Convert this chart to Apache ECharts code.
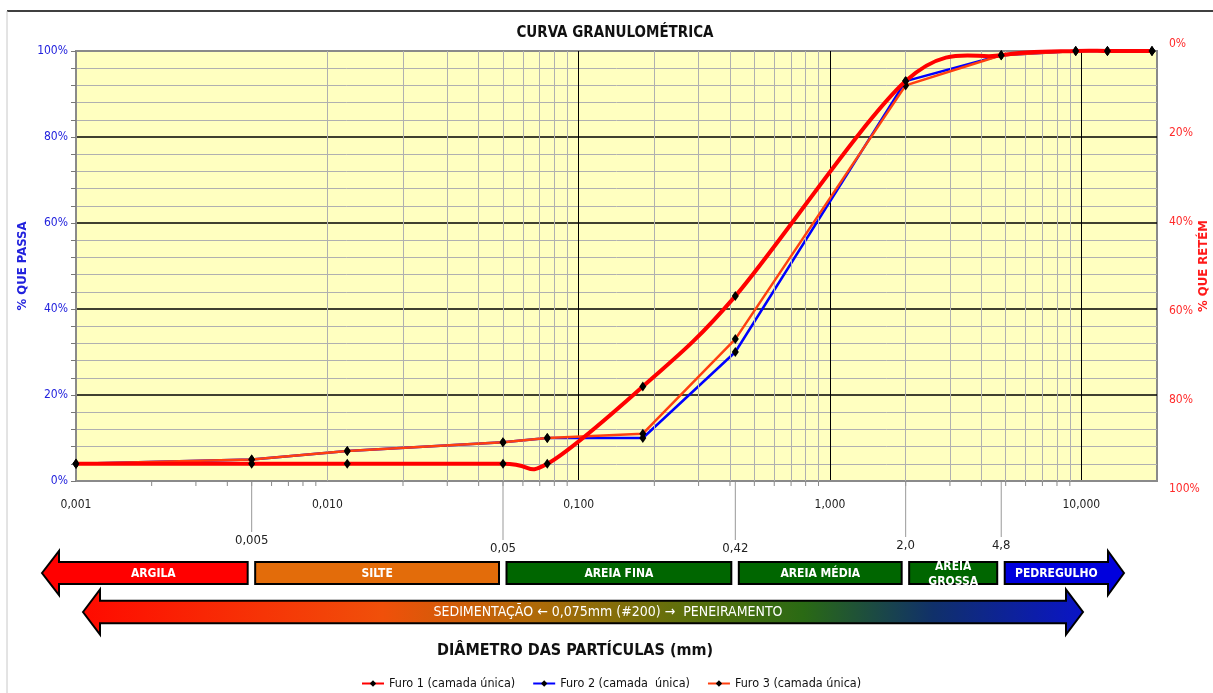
<!DOCTYPE html>
<html>
<head>
<meta charset="utf-8">
<script src="https://cdn.jsdelivr.net/npm/echarts@6/dist/echarts.min.js"></script>
<style>
html, body { margin: 0; padding: 0; background: #fff; }
#main { width: 1213px; height: 693px; }
</style>
</head>
<body>
<div id="main"></div>
<script>
// diâmetros das peneiras (mm) e % que passa de cada furo
const diametros = [0.001, 0.005, 0.012, 0.05, 0.075, 0.18, 0.42, 2.0, 4.8, 9.5, 12.7, 19.1]
const furo1 = [4, 4, 4, 4, 4, 22, 43, 93, 99, 100, 100, 100]
const furo2 = [4, 5, 7, 9, 10, 10, 30, 93, 99, 100, 100, 100]
const furo3 = [4, 5, 7, 9, 10, 11, 33, 92, 99, 100, 100, 100]
const nomes = ['Furo 1 (camada única)', 'Furo 2 (camada  única)', 'Furo 3 (camada única)']

// limites das frações (escala ABNT)
const limites = [0.005, 0.05, 0.42, 2.0, 4.8]
const limitesTxt = ['0,005', '0,05', '0,42', '2,0', '4,8']
const classes = ['ARGILA', 'SILTE', 'AREIA FINA', 'AREIA MÉDIA', 'AREIA\nGROSSA', 'PEDREGULHO']

const xMin = 0.001, xMax = 20
const FONT = '"Liberation Sans Narrow", "DejaVu Sans Condensed", sans-serif'
const CINZA = '#b0b0b0'

const chart = echarts.init(document.getElementById('main'))

// linhas secundárias do papel log (2..9 de cada década)
const menores = []
for (let e = -3; e <= 1; e++) {
    for (let k = 2; k <= 9; k++) {
        const v = k * Math.pow(10, e)
        if (v < xMax) menores.push(+v.toPrecision(3))
    }
}

const pares = arr => diametros.map((d, i) => [d, arr[i]])

// curva suavizada tipo Excel (catmull-rom) do furo 1, em pixels do eixo
function curvaSuave(params, api) {
    if (params.dataIndex !== 0) return null
    const pts = diametros.map((d, i) => api.coord([d, furo1[i]]))
    const t = 0.16
    const segs = []
    for (let i = 0; i < pts.length - 1; i++) {
        const p0 = pts[Math.max(i - 1, 0)], p1 = pts[i], p2 = pts[i + 1], p3 = pts[Math.min(i + 2, pts.length - 1)]
        segs.push({
            type: 'bezierCurve',
            shape: {
                x1: p1[0], y1: p1[1], x2: p2[0], y2: p2[1],
                cpx1: p1[0] + (p2[0] - p0[0]) * t, cpy1: p1[1] + (p2[1] - p0[1]) * t,
                cpx2: p2[0] - (p3[0] - p1[0]) * t, cpy2: p2[1] - (p3[1] - p1[1]) * t
            },
            style: { fill: null, stroke: '#ff0000', lineWidth: 4, lineCap: 'round' }
        })
    }
    return { type: 'group', children: segs }
}

// rótulos da direita ficam um pouco mais espaçados no original
const richDir = {}
for (let v = 0; v <= 100; v += 20) {
    const s = Math.round(-7 + 0.15 * v)
    richDir['p' + v] = { color: '#ff2a2a', fontSize: 12, padding: s < 0 ? [0, 0, -2 * s, 0] : [2 * s, 0, 0, 0] }
}

const option = {
    animation: false,
    textStyle: { fontFamily: FONT },
    grid: {
        left: 76, right: 56, top: 51, bottom: 212,
        outerBoundsMode: 'none', containLabel: false,
        show: true, backgroundColor: '#ffffc0', borderColor: '#8a8a8a', borderWidth: 2
    },
    legend: {
        data: [{ name: nomes[0], lineStyle: { opacity: 1 } }, nomes[1], nomes[2]],
        left: 356, top: 672,
        itemWidth: 22, itemHeight: 8, itemGap: 17,
        textStyle: { fontSize: 12.5, color: '#111', fontFamily: FONT }
    },
    xAxis: {
        type: 'log', logBase: 10, min: xMin, max: xMax,
        axisLine: { lineStyle: { color: '#8a8a8a', width: 2 } },
        axisTick: { show: false },
        axisLabel: {
            color: '#222', fontSize: 12, margin: 18,
            formatter: v => {
                const e = Math.log10(v)
                return Math.abs(e - Math.round(e)) < 1e-6 ? v.toFixed(3).replace('.', ',') : ''
            }
        },
        splitLine: { show: true, showMinLine: false, showMaxLine: false, lineStyle: { color: '#000', width: 1 } }
    },
    yAxis: [{
        type: 'value', min: 0, max: 100, interval: 20, position: 'left',
        name: '% QUE PASSA', nameLocation: 'middle', nameGap: 47, nameRotate: 90, nameMoveOverlap: false,
        nameTextStyle: { color: '#2222dd', fontWeight: 'bold', fontSize: 13 },
        axisLine: { show: true, lineStyle: { color: '#8a8a8a', width: 2 } },
        axisTick: { show: true, length: 5, lineStyle: { color: '#777' } },
        minorTick: { show: true, splitNumber: 5, length: 5, lineStyle: { color: '#777' } },
        axisLabel: { formatter: '{value}%', color: '#2222dd', fontSize: 12, margin: 8 },
        splitLine: { show: true, showMinLine: false, showMaxLine: false, lineStyle: { color: '#000', width: 1.5 } },
        minorSplitLine: { show: true, lineStyle: { color: CINZA, width: 1 } }
    }, {
        type: 'value', min: 0, max: 100, interval: 20, position: 'right', inverse: true,
        name: '% QUE RETÉM', nameLocation: 'middle', nameGap: 40, nameRotate: 90, nameMoveOverlap: false,
        nameTextStyle: { color: '#ff1a1a', fontWeight: 'bold', fontSize: 13 },
        axisLine: { show: false }, axisTick: { show: false }, splitLine: { show: false },
        axisLabel: { formatter: v => '{p' + v + '|' + v + '%}', rich: richDir, margin: 12 }
    }],
    series: [{
        // linha própria escondida: a curva vem da série 'curva1'
        name: nomes[0], type: 'line', data: pares(furo1), z: 6,
        symbol: 'diamond', symbolSize: [7, 10],
        itemStyle: { color: '#000' }, lineStyle: { color: '#ff0000', width: 4, opacity: 0 }
    }, {
        name: nomes[1], type: 'line', data: pares(furo2), z: 4,
        symbol: 'diamond', symbolSize: [7, 10],
        itemStyle: { color: '#000' }, lineStyle: { color: '#0000ff', width: 2.5 }
    }, {
        name: nomes[2], type: 'line', data: pares(furo3), z: 5,
        symbol: 'diamond', symbolSize: [7, 10],
        itemStyle: { color: '#000' }, lineStyle: { color: '#ff4010', width: 2.5 }
    }, {
        name: 'curva1', type: 'custom', coordinateSystem: 'cartesian2d',
        data: pares(furo1), encode: { x: 0, y: 1 }, z: 5.5, silent: true,
        renderItem: curvaSuave
    }, {
        // só para as linhas verticais secundárias
        name: 'grade', type: 'line', data: [], z: 1, silent: true,
        markLine: {
            silent: true, symbol: 'none', label: { show: false }, animation: false,
            lineStyle: { color: CINZA, width: 1, type: 'solid' },
            data: menores.map(v => ({ xAxis: v, lineStyle: { color: CINZA, width: 1, type: 'solid' } }))
        }
    }]
}
chart.setOption(option)

// ---- desenhos abaixo do gráfico (posições vindas do eixo) ----
const px = v => chart.convertToPixel({ xAxisIndex: 0 }, v)
const yBase = chart.convertToPixel({ yAxisIndex: 0 }, 0)
const g = []

// moldura
g.push({ type: 'line', shape: { x1: 7, y1: 11, x2: 1213, y2: 11 }, style: { stroke: '#000', lineWidth: 1.5 } })
g.push({ type: 'line', shape: { x1: 7, y1: 11, x2: 7, y2: 693 }, style: { stroke: '#c8c8c8', lineWidth: 1 } })

// título
g.push({ type: 'text', x: 615, y: 33, style: { text: 'CURVA GRANULOMÉTRICA', font: 'bold 15px ' + FONT, fill: '#111', align: 'center', verticalAlign: 'middle' } })

// marcas secundárias no eixo x
menores.forEach(v => {
    const x = px(v)
    g.push({ type: 'line', shape: { x1: x, y1: yBase, x2: x, y2: yBase + 5 }, style: { stroke: '#888', lineWidth: 1 } })
})

// linhas de limite e rótulos
const rotY = [541, 549, 549, 546, 546]
limites.forEach((v, i) => {
    const x = px(v)
    g.push({ type: 'line', shape: { x1: x, y1: yBase, x2: x, y2: rotY[i] - 9 }, style: { stroke: '#999', lineWidth: 1 } })
    g.push({ type: 'text', x: x, y: rotY[i], style: { text: limitesTxt[i], font: '13px ' + FONT, fill: '#222', align: 'center', verticalAlign: 'middle' } })
})

function setaEsq(tip, right, cy, hl, hh, bh) {
    return [[tip, cy], [tip + hl, cy - hh], [tip + hl, cy - bh], [right, cy - bh], [right, cy + bh], [tip + hl, cy + bh], [tip + hl, cy + hh]]
}
function setaDir(left, tip, cy, hl, hh, bh) {
    return [[tip, cy], [tip - hl, cy - hh], [tip - hl, cy - bh], [left, cy - bh], [left, cy + bh], [tip - hl, cy + bh], [tip - hl, cy + hh]]
}

// faixa das frações
const cores = ['#ff0000', '#e36c0a', '#006600', '#006600', '#006600', '#0000dd']
const cy1 = 573, bh1 = 11, hh1 = 22
classes.forEach((nome, i) => {
    const a = i === 0 ? 42 : px(limites[i - 1]) + 3.5
    const b = i === classes.length - 1 ? 1124 : px(limites[i]) - 4
    let shape
    if (i === 0) shape = { type: 'polygon', shape: { points: setaEsq(a, b, cy1, 17, hh1, bh1) } }
    else if (i === classes.length - 1) shape = { type: 'polygon', shape: { points: setaDir(a, b, cy1, 16, hh1, bh1) } }
    else shape = { type: 'rect', shape: { x: a, y: cy1 - bh1, width: b - a, height: bh1 * 2 } }
    shape.style = { fill: cores[i], stroke: '#000', lineWidth: 2 }
    g.push(shape)
    let cx = (a + b) / 2
    if (i === 0) cx = (a + 17 + b) / 2
    if (i === classes.length - 1) cx = (a + b - 16) / 2
    g.push({ type: 'text', x: cx, y: cy1 + 1, z: 10, style: { text: nome, font: 'bold 12px ' + FONT, fill: '#fff', align: 'center', verticalAlign: 'middle', lineHeight: 15 } })
})

// seta dupla sedimentação / peneiramento
const cy2 = 612, hh2 = 22.5, bh2 = 11.3
g.push({
    type: 'polygon',
    shape: { points: [
        [83, cy2], [100, cy2 - hh2], [100, cy2 - bh2], [1066, cy2 - bh2], [1066, cy2 - hh2], [1083, cy2],
        [1066, cy2 + hh2], [1066, cy2 + bh2], [100, cy2 + bh2], [100, cy2 + hh2]
    ] },
    style: {
        stroke: '#000', lineWidth: 2,
        fill: new echarts.graphic.LinearGradient(0, 0, 1, 0, [
            { offset: 0, color: '#ff0a00' },
            { offset: 0.3, color: '#f0500a' },
            { offset: 0.45, color: '#b06a08' },
            { offset: 0.6, color: '#5e700c' },
            { offset: 0.72, color: '#2a6a14' },
            { offset: 0.85, color: '#10306a' },
            { offset: 1, color: '#0a14c8' }
        ])
    }
})
g.push({ type: 'text', x: 608, y: cy2, z: 10, style: { text: 'SEDIMENTAÇÃO ← 0,075mm (#200) →  PENEIRAMENTO', font: '14px ' + FONT, fill: '#fff', align: 'center', verticalAlign: 'middle' } })

// nome do eixo x
g.push({ type: 'text', x: 575, y: 651, style: { text: 'DIÂMETRO DAS PARTÍCULAS (mm)', font: 'bold 16px ' + FONT, fill: '#111', align: 'center', verticalAlign: 'middle' } })

chart.setOption({ graphic: { elements: g } })
</script>
</body>
</html>
